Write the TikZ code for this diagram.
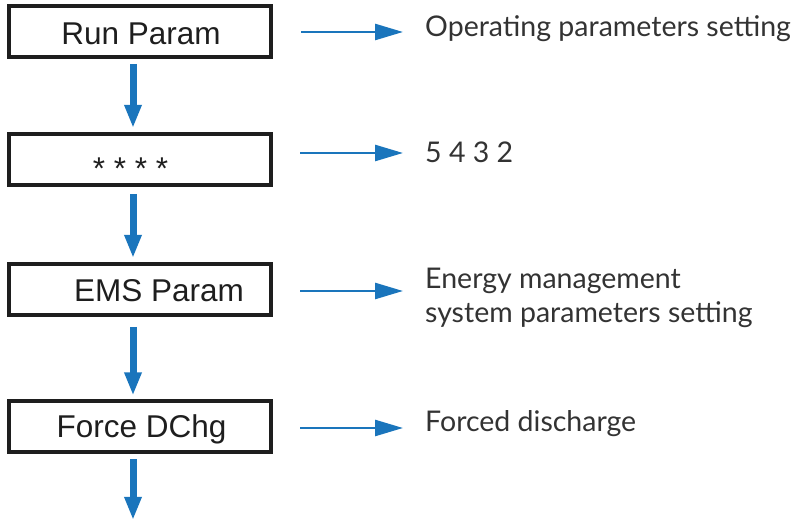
\documentclass[tikz,border=0pt]{standalone}
\usepackage{fontspec}
\setmainfont{Liberation Sans}
\newfontfamily\descfont{Lato}
\usetikzlibrary{arrows.meta}
\definecolor{arrowblue}{HTML}{1A75BC}
\definecolor{boxline}{HTML}{1E1E1E}
\tikzset{
  stepbox/.style={draw=boxline, line width=4pt, minimum width=262pt, minimum height=51pt, inner sep=0pt},
  boxtext/.style={anchor=base, inner sep=0pt, font=\fontsize{31.5}{36}\selectfont, text=boxline},
  desctext/.style={anchor=base west, inner sep=0pt, font=\descfont\fontsize{28.5}{34}\selectfont, text=black!80, align=left},
  varrow/.style={draw=arrowblue, line width=7pt, -{Triangle[width=16pt,length=23pt]}},
  harrow/.style={draw=arrowblue, line width=2.6pt, -{Triangle[width=16pt,length=28pt]}}
}
\begin{document}
\begin{tikzpicture}[x=1pt,y=1pt]
\useasboundingbox (0,0) rectangle (798,521);
% boxes
\node[stepbox] (b1) at (140,489.5) {};
\node[stepbox] (b2) at (140,361.5) {};
\node[stepbox] (b3) at (140,231.5) {};
\node[stepbox] (b4) at (140,94) {};
% box texts
\node[boxtext] (t1) at (141,476) {Run Param};
\node[boxtext] (t2) at (130.5,341) {* * * *};
\node[boxtext] (t3) at (159,219) {EMS Param};
\node[boxtext] (t4) at (141.5,83) {Force DChg};
% vertical arrows
\coordinate (end) at (133,1);
\draw[varrow] ([xshift=-7pt,yshift=-5pt]b1.south) -- ([xshift=-7pt,yshift=4pt]b2.north);
\draw[varrow] ([xshift=-7pt,yshift=-7pt]b2.south) -- ([xshift=-7pt,yshift=4pt]b3.north);
\draw[varrow] ([xshift=-7pt,yshift=-10pt]b3.south) -- ([xshift=-7pt,yshift=4pt]b4.north);
\draw[varrow] ([xshift=-7pt,yshift=-5pt]b4.south) -- (end);
% descriptions
\node[desctext] (d1) at (425,484) {Operating parameters setting};
\node[desctext] (d2) at (425,358) {5 4 3 2};
\node[desctext, anchor=north west] (d3) at (425,253) {Energy management\\system parameters setting};
\node[desctext] (d4) at (425,89) {Forced discharge};
% horizontal arrows
\coordinate (h1) at (403,489);
\coordinate (h2) at (403,368);
\coordinate (h3) at (403,230);
\coordinate (h4) at (403,93);
\draw[harrow] (b1.east |- h1) ++(28,0) -- (h1);
\draw[harrow] (b2.east |- h2) ++(27,0) -- (h2);
\draw[harrow] (b3.east |- h3) ++(27,0) -- (h3);
\draw[harrow] (b4.east |- h4) ++(27,0) -- (h4);
\end{tikzpicture}
\end{document}
